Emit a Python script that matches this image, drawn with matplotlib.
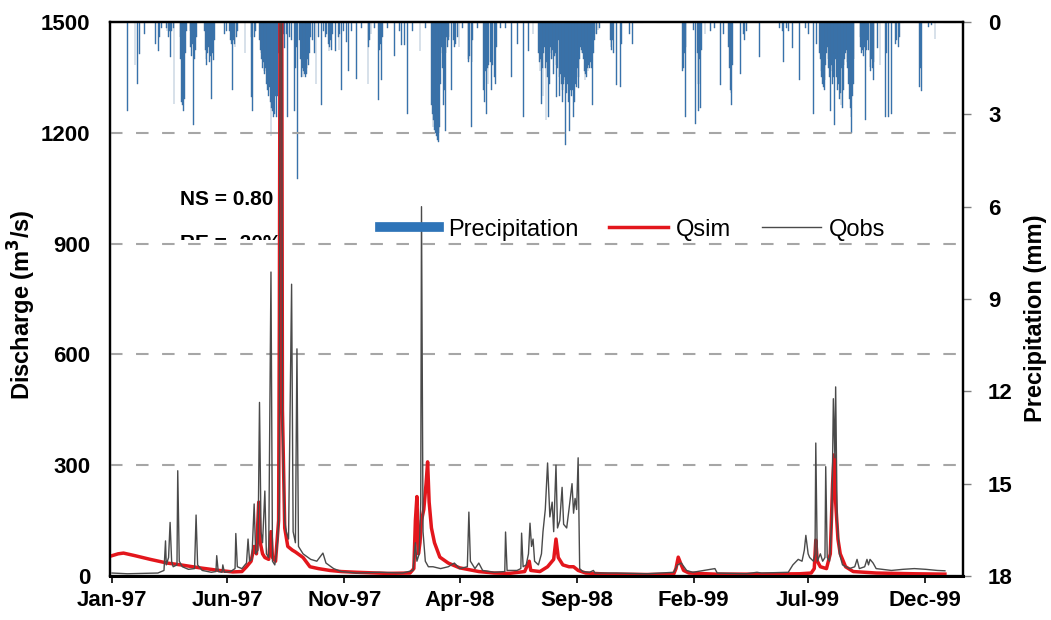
import numpy as np
import pandas as pd
import matplotlib
matplotlib.use('Agg')
import matplotlib.pyplot as plt
import matplotlib.dates as mdates
from matplotlib.lines import Line2D
from matplotlib.patches import Rectangle

plt.rcParams['font.family'] = ['Liberation Sans', 'DejaVu Sans']
plt.rcParams['font.weight'] = 'bold'

start = pd.Timestamp('1997-01-01')

# daily precipitation (day offset from 1 Jan 1997, mm)
precip_day = [20, 30, 33, 36, 43, 57, 61, 62, 65, 71, 72, 74, 75, 77, 78, 80, 81,
              89, 90, 91, 92, 93, 94, 95, 96, 97, 102, 103, 104, 105, 107, 108, 109, 111,
              121, 122, 123, 124, 125, 126, 128, 129, 130, 131, 133, 134, 147, 150,
              154, 155, 156, 158, 159, 160, 161, 163, 164, 174, 182, 183, 184, 187, 188,
              193, 194, 195, 196, 197, 198, 199, 200, 201, 202, 203, 204, 205, 206, 207,
              208, 209, 210, 211, 212, 213, 214, 215, 216, 217, 218, 219, 222, 224, 226,
              228, 230, 232, 235, 239, 240, 241, 243, 245, 247, 248, 249, 250, 251, 252,
              253, 254, 255, 256, 257, 258, 260, 262, 265, 267, 270, 274, 277, 279, 281,
              283, 284, 285, 286, 287, 289, 292, 296, 297, 298, 300, 303, 307, 309, 313,
              320, 327, 335, 336, 337, 339, 343, 349, 350, 351, 353, 354, 361, 370, 376,
              379, 383, 387, 393, 403, 410, 418, 419, 420, 421, 422, 423, 424, 425, 426,
              427, 428, 429, 430, 431, 432, 433, 434, 435, 436, 437, 438, 439, 440, 441,
              444, 447, 448, 450, 452, 454,
              459, 466, 467, 468, 470, 471, 472, 478, 486, 487, 488, 489, 490, 491, 492,
              493, 495, 497, 498, 500, 502, 503, 508, 515, 523, 531, 538, 545, 551, 558,
              559, 560, 561, 562, 563, 564, 565, 566, 567, 568, 569, 570, 571, 572, 573,
              574, 575, 576, 577, 578, 579, 580, 581, 582, 583, 584, 585, 586, 587, 588,
              589, 590, 591, 592, 593, 594, 595, 596, 597, 598, 599, 600, 601, 602, 603,
              604, 605, 606, 607, 608, 609, 610, 611, 612, 613, 614, 615, 616, 617,
              618, 619, 620, 621, 622, 623, 624, 625, 626, 627, 628, 629, 630, 631, 632, 634,
              636, 638, 652, 653, 654, 655, 656, 660, 665, 667, 677, 681, 747, 748, 749,
              750, 751, 761, 764, 766, 767, 768, 769, 770, 771, 776, 783, 789, 796, 800,
              807, 808, 809, 810, 811, 812, 822, 826, 828, 830, 847, 874, 877, 879, 883,
              885, 890, 900, 907, 911, 918, 922, 926, 927, 928, 929, 930, 931, 932, 933,
              934, 935, 936, 937, 938, 939, 940, 941, 942, 943, 944, 945, 946, 947, 948,
              949, 950, 951, 952, 953, 954, 955, 956, 957,
              958, 959, 960, 961, 962, 963, 964, 965, 966, 967, 968, 969, 970, 971, 979, 980,
              981, 982, 983, 985, 986, 987, 989, 990, 992, 993, 994, 995, 996, 997, 1002,
              1005, 1012, 1013, 1016, 1020, 1025, 1027, 1029, 1031, 1057, 1058, 1059,
              1068, 1072, 1077]
precip_mm = [2.9, 1.4, 2.0, 1.05, 0.4, 0.7, 0.95, 0.5, 0.2, 0.2, 0.3, 0.5, 0.3, 1.15, 0.3, 0.2, 2.65,
             0.5, 1.2, 2.6, 2.7, 2.3, 2.9, 2.5, 1.0, 0.3, 0.3, 0.8, 1.1, 0.7, 3.35, 1.2, 0.9, 0.5,
             0.3, 0.9, 1.2, 1.4, 1.0, 0.8, 1.3, 1.1, 2.5, 1.0, 1.25, 0.6, 0.4, 0.3,
             0.3, 0.6, 0.7, 2.2, 0.6, 0.7, 0.8, 0.5, 0.3, 1.0, 2.45, 0.5, 2.9, 0.5, 0.3,
             0.6, 0.9, 1.0, 1.2, 1.5, 1.3, 1.6, 1.7, 1.5, 2.0, 1.8, 2.2, 2.4, 2.1, 2.6,
             3.7, 2.8, 2.9, 3.1, 2.6, 3.0, 2.4, 3.1, 1.6, 2.4, 1.0, 0.6, 0.5, 0.4, 0.85,
             0.4, 3.1, 0.5, 0.6, 2.9, 1.5, 0.8, 5.1, 0.6, 1.2, 1.8, 1.5, 1.8, 1.6, 1.7,
             1.8, 1.5, 1.7, 1.2, 1.4, 1.0, 0.5, 0.6, 1.0, 2.0, 0.5, 2.7, 0.3, 0.5, 0.4,
             0.7, 0.95, 0.8, 0.6, 0.9, 0.4, 0.95, 0.5, 0.9, 0.4, 2.2, 0.3, 0.65, 1.6, 0.3,
             1.85, 0.2, 2.0, 0.8, 0.6, 0.4, 0.2, 2.55, 0.9, 0.7, 1.9, 0.5, 0.2, 1.1, 0.3,
             0.75, 0.75, 3.0, 0.3, 0.95, 0.2, 2.7, 3.0, 3.4, 3.2, 3.5, 3.6, 3.3, 3.7, 3.85,
             3.9, 3.6, 3.4, 2.0, 0.8, 1.5, 1.0, 2.7, 2.2, 3.55, 1.0, 0.5, 0.8, 0.6, 0.5,
             2.2, 0.6, 0.8, 0.7, 0.5, 0.8,
             0.2, 1.2, 1.3, 1.1, 3.4, 1.3, 0.6, 0.2, 2.2, 1.4, 2.6, 1.6, 3.0, 1.5, 2.0,
             1.4, 1.3, 2.2, 1.4, 1.8, 2.0, 0.8, 0.2, 0.2, 1.8, 0.7, 3.1, 0.95, 0.4, 1.0,
             1.3, 1.6, 1.2, 2.65, 1.5, 2.4, 1.0, 0.8, 1.5, 3.2, 1.3, 1.8, 3.1, 1.0, 2.0,
             0.8, 1.2, 0.9, 1.2, 1.7, 1.1, 1.0, 1.4, 2.45, 1.5, 0.6, 1.8, 2.4, 1.7, 2.0,
             2.6, 2.2, 2.0, 1.8, 1.9, 4.0, 2.3, 2.0, 2.6, 2.1, 3.55, 2.2, 2.4, 2.0, 2.2,
             3.1, 2.6, 2.0, 1.8, 2.1, 1.5, 2.15, 1.8, 1.2, 0.8, 0.9, 1.0, 1.0, 1.2,
             1.6, 1.9, 1.7, 1.8, 1.5, 1.6, 1.4, 1.5, 1.3, 1.2, 1.5, 2.7, 1.0, 0.6, 0.4, 0.4,
             0.25, 0.2, 0.6, 0.8, 0.9, 0.6, 1.0, 2.05, 2.1, 0.7, 0.4, 0.7, 1.6, 1.5, 1.0,
             3.1, 0.8, 0.25, 3.3, 1.0, 2.9, 2.0, 1.2, 2.8, 0.9, 0.4, 0.3, 0.2, 2.05, 0.4,
             0.8, 1.5, 2.2, 2.3, 2.7, 1.4, 1.7, 0.4, 0.6, 0.3, 1.15, 0.2, 0.3, 1.3, 0.2,
             0.3, 0.85, 1.9, 0.2, 0.4, 3.0, 0.7, 1.0, 1.2, 1.6, 1.8, 2.0, 2.1, 2.2, 1.9,
             1.4, 1.0, 0.8, 1.2, 1.5, 1.8, 2.9, 1.6, 1.4, 2.0, 1.8, 3.35, 1.0, 1.2, 1.8,
             2.2, 1.6, 2.0, 2.5, 2.3, 2.7, 1.5, 2.8, 2.2,
             1.4, 1.2, 1.0, 0.9, 1.3, 1.5, 2.0, 2.5, 2.8, 3.1, 3.6, 2.4, 2.0, 1.2, 0.5, 0.8,
             1.0, 0.9, 1.1, 0.8, 3.2, 0.9, 0.6, 0.9, 1.45, 1.6, 1.2, 1.5, 1.9, 1.3, 0.85,
             1.4, 3.1, 1.0, 3.1, 3.0, 0.7, 0.6, 0.8, 0.5, 2.1, 1.5, 2.25,
             0.15, 0.1, 0.55]

# observed discharge (m3/s)
qobs_day = [0, 20, 40, 60, 68, 70, 71, 74, 76, 78, 80, 85, 86, 88, 92, 100, 108, 110, 112,
            118, 130, 136, 137, 139, 144, 145, 147, 155, 161, 162, 164, 170, 176, 178, 180,
            183, 186, 188, 191, 193, 195, 197, 200, 202, 205, 208, 210, 213, 215, 217, 219,
            220, 221, 222, 223, 226, 228, 231, 235, 237, 240, 242, 244, 250, 260, 268, 276,
            280, 290, 300, 320, 350, 380, 394, 397, 399, 402, 404, 405, 407, 410, 414, 420,
            430, 440, 448, 455, 465, 467, 469, 472, 475, 480, 485, 500, 514, 515, 517, 530,
            535, 536, 538, 542, 545, 547, 549, 551, 553, 558, 562, 564, 567, 570, 573, 576,
            578, 581, 583, 586, 589, 591, 595, 598, 602, 604, 606, 608, 610, 612, 616, 625,
            630, 632, 660, 700, 735, 740, 745, 752, 760, 789, 792, 830, 844, 850, 885, 891,
            898, 903, 906, 908, 911, 913, 918, 920, 921, 923, 927, 930, 933, 934, 936, 939,
            942, 944, 946, 947, 949, 952, 956, 965, 972, 975, 978, 985, 988, 990, 992, 996,
            1000, 1020, 1035, 1050, 1065, 1080, 1090]
qobs = [8, 6, 7, 8, 15, 95, 30, 50, 145, 40, 25, 30, 285, 40, 25, 18, 20, 165, 30,
        15, 10, 12, 55, 12, 10, 30, 10, 12, 20, 115, 25, 20, 35, 100, 40,
        45, 195, 60, 70, 470, 120, 90, 230, 60, 50, 823, 40, 30, 60, 100, 200,
        1600, 1600, 1600, 400, 150, 120, 100, 790, 120, 90, 615, 80, 60, 45, 40, 62,
        35, 20, 12, 8, 10, 8, 15, 90, 40, 60, 200, 1000, 120, 40, 25, 25,
        20, 25, 35, 20, 25, 173, 40, 30, 20, 35, 15, 10, 12, 119, 15, 15,
        20, 116, 25, 30, 60, 143, 80, 100, 40, 30, 60, 120, 180, 306, 160, 200,
        120, 300, 130, 150, 240, 140, 130, 180, 250, 170, 210, 180, 320, 20, 12, 10,
        15, 8, 8, 6, 10, 30, 35, 15, 10, 20, 8, 6, 10, 8, 10, 30,
        45, 40, 70, 110, 60, 50, 40, 60, 360, 40, 60, 40, 50, 296, 50, 40,
        150, 480, 320, 512, 150, 60, 30, 20, 25, 45, 20, 25, 45, 30, 45, 35,
        20, 15, 18, 20, 18, 15, 14]

# simulated discharge (m3/s)
qsim_day = [0, 8, 15, 30, 50, 72, 90, 115, 140, 158, 170, 176, 182, 186, 189, 192, 194, 197,
            200, 205, 208, 210, 214, 218, 219, 220, 222, 223, 226, 230, 236, 240, 250, 259,
            270, 285, 300, 320, 360, 390, 395, 397, 399, 401, 403, 405, 408, 411, 413, 415,
            418, 422, 429, 440, 455, 480, 500, 520, 540, 546, 548, 560, 570, 578, 581, 584,
            590, 598, 604, 610, 620, 650, 700, 735, 738, 741, 744, 748, 755, 790, 850, 900,
            915, 919, 921, 923, 927, 935, 940, 943, 945, 947, 950, 953, 960, 970, 1000, 1050,
            1090]
qsim = [55, 60, 62, 55, 45, 35, 30, 22, 15, 11, 12, 25, 40, 80, 60, 200, 90, 60,
        50, 45, 120, 50, 40, 150, 700, 1700, 1700, 450, 130, 80, 70, 65, 50, 25,
        20, 15, 12, 10, 7, 8, 20, 150, 215, 60, 90, 150, 180, 250, 309, 200,
        130, 90, 51, 35, 22, 12, 8, 7, 12, 40, 15, 12, 25, 45, 100, 50,
        30, 25, 25, 15, 8, 5, 4, 5, 20, 51, 35, 15, 8, 5, 5, 6,
        8, 20, 97, 40, 25, 20, 60, 250, 328, 200, 100, 60, 25, 12, 8, 6,
        5]

tick_dates = ['1997-01-01', '1997-06-01', '1997-11-01', '1998-04-01', '1998-09-01',
              '1999-02-01', '1999-07-01', '1999-12-01']


def to_dates(days):
    return start + pd.to_timedelta(np.array(days, dtype=float), unit='D')


fig = plt.figure(figsize=(10.51, 6.2), dpi=100)
ax = fig.add_axes([0.1047, 0.071, 0.8116, 0.8935])
ax2 = ax.twinx()
ax.set_zorder(ax2.get_zorder() + 1)
ax.patch.set_visible(False)

blue = '#2e74b8'
red = '#e3161c'
grey = '#4a4a4a'

ax2.bar(to_dates(precip_day), precip_mm, width=1.1, color=blue,
        edgecolor='#44709c', linewidth=0.3)
ax2.set_ylim(18, 0)
ax2.set_yticks(np.arange(0, 19, 3))

ax.plot(to_dates(qsim_day), qsim, color=red, lw=2.5, solid_joinstyle='round')
ax.plot(to_dates(qobs_day), qobs, color=grey, lw=1.0)
ax.set_ylim(0, 1500)
ax.set_yticks(np.arange(0, 1501, 300))
ax.yaxis.grid(True, color='#a6a6a6', lw=1.5, ls=(0, (6, 6.5)))
ax.set_axisbelow(True)

ax.set_xlim(start + pd.Timedelta(days=-2.6), start + pd.Timedelta(days=1113.7))
ax.set_xticks(pd.to_datetime(tick_dates))
ax.xaxis.set_major_formatter(mdates.DateFormatter('%b-%y'))

for a in (ax, ax2):
    for s in a.spines.values():
        s.set_color('black')
        s.set_linewidth(1.6)
ax.spines['bottom'].set_linewidth(2.2)

ax.tick_params(axis='y', length=0, pad=14, labelsize=16)
ax.tick_params(axis='x', length=5, width=1.2, direction='out', pad=5, labelsize=16)
ax2.tick_params(axis='y', length=6, width=1, color='#808080', pad=12, labelsize=16)

fig.text(0.021, 0.508, 'Discharge (m$^3$/s)', rotation=90, ha='center', va='center',
         fontsize=17, fontweight='bold')
fig.text(0.985, 0.487, 'Precipitation (mm)', rotation=90, ha='center', va='center',
         fontsize=17, fontweight='bold')

ax.text(0.082, 0.679, 'NS = 0.80', transform=ax.transAxes, ha='left', va='center',
        fontsize=15, fontweight='bold')
t = ax.text(0.082, 0.601, 'RE = -20%', transform=ax.transAxes, ha='left', va='center',
            fontsize=15, fontweight='bold', clip_on=True)
t.set_clip_path(Rectangle((0, 0.6065), 1, 1, transform=ax.transAxes))

handles = [Line2D([], [], color=blue, lw=7),
           Line2D([], [], color=red, lw=2.5),
           Line2D([], [], color=grey, lw=1.0)]
ax.legend(handles, ['Precipitation', 'Qsim', 'Qobs'], ncol=3, loc='center',
          bbox_to_anchor=(0.613, 0.625), frameon=False,
          prop={'size': 17, 'weight': 'normal'}, handlelength=2.5,
          handletextpad=0.35, columnspacing=1.3)

fig.savefig('out.png', dpi=100)
